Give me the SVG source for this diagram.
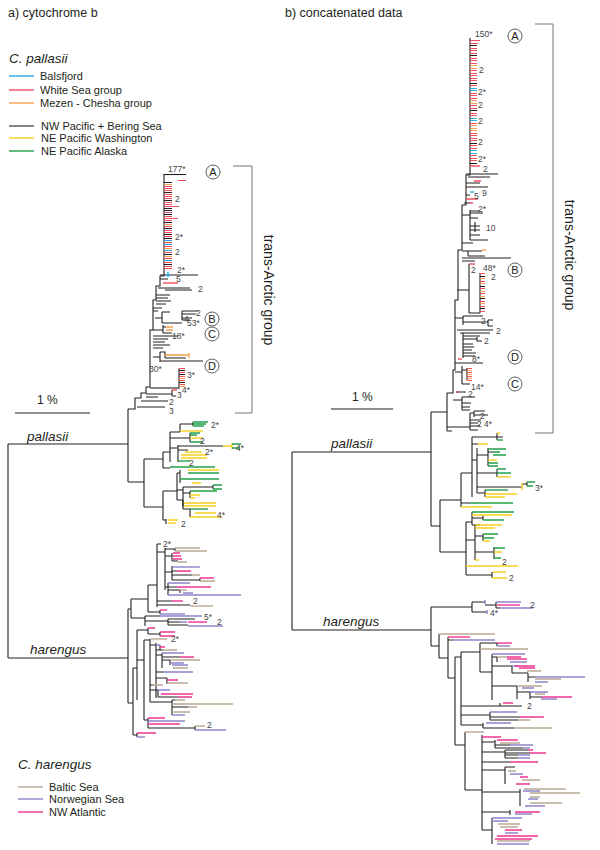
<svg xmlns="http://www.w3.org/2000/svg" width="600" height="850" viewBox="0 0 600 850">
<style>
.k{stroke:#231f20;stroke-width:1.1;fill:none}
.c{stroke-width:1.4;fill:none}
.tk{stroke-width:1;fill:none}
.bl{stroke:#2aaae0}.rd{stroke:#f04e5e}.or{stroke:#f5a050}.ye{stroke:#f7cf1e}.gr{stroke:#22a04b}
.tn{stroke:#b8a892}.pu{stroke:#8d84cc}.mg{stroke:#ee3491}
.br{stroke:#777;stroke-width:1;fill:none}
.t{font-family:"Liberation Sans",Arial,sans-serif;fill:#231f20}
.n{font-family:"Liberation Sans",Arial,sans-serif;font-size:8.5px;fill:#444}
.it{font-style:italic}
.ci{fill:#fff;stroke:#333;stroke-width:0.8}
</style>

<g id="titles">
<text class="t" x="8" y="17" font-size="12.5">a) cytochrome b</text>
<text class="t" x="285" y="17" font-size="12.5">b) concatenated data</text>
</g>

<g id="legend-pallasii">
<text class="t it" x="9" y="63" font-size="13.5">C. pallasii</text>
<path class="c bl" d="M9,76H34"/><text class="t" x="40" y="80" font-size="11">Balsfjord</text>
<path class="c rd" d="M9,90H34"/><text class="t" x="40" y="94" font-size="11">White Sea group</text>
<path class="c or" d="M9,103H34"/><text class="t" x="40" y="107" font-size="11">Mezen - Chesha group</text>
<path class="k" stroke-width="1.4" d="M9,126H34"/><text class="t" x="41" y="130" font-size="11">NW Pacific + Bering Sea</text>
<path class="c ye" d="M9,138H34"/><text class="t" x="41" y="142" font-size="11">NE Pacific Washington</text>
<path class="c gr" d="M9,151H34"/><text class="t" x="41" y="155" font-size="11">NE Pacific Alaska</text>
</g>

<g id="legend-harengus">
<text class="t it" x="18" y="769" font-size="13.5">C. harengus</text>
<path class="c tn" d="M18,787H43"/><text class="t" x="49" y="791" font-size="11">Baltic Sea</text>
<path class="c pu" d="M18,799H43"/><text class="t" x="49" y="803" font-size="11">Norwegian Sea</text>
<path class="c mg" d="M18,812H43"/><text class="t" x="49" y="816" font-size="11">NW Atlantic</text>
</g>

<!-- ================= PANEL A ================= -->
<g id="a-scale">
<path class="k" d="M15,413H90"/>
<text class="t" x="37" y="404" font-size="12">1 %</text>
</g>

<g id="a-root">
<path class="k" d="M8,444V658M8,444H128M8,658H128M128,409V482M128,482H144M128,609V703"/>
<text class="t it" x="27" y="441" font-size="13.5">pallasii</text>
<text class="t it" x="30" y="654" font-size="13.5">harengus</text>
</g>

<g id="a-transarctic">
<path class="k" d="M128,409H135V398H141V393H146V387H150V330H153V300H156V286H160V276H164V174"/>
<g transform="translate(0,0.5)">
<path class="k" d="M164,174H186"/>
<path class="tk" stroke="#231f20" d="M164,182h8M164,192h8M164,200h8M164,208h8M164,210h8M164,214h8M164,222h8M164,228h8M164,234h8M164,238h8M164,254h8M164,264h8"/>
<path class="tk rd" d="M178,180H186M164,186h8M164,188h8M164,190h8M164,194h8M164,196h8M164,198h8M164,202h8M164,204h8M164,206h15M164,212h8M164,216h8M164,218h14M164,220h8M164,226h8M164,230h8M164,232h8M164,236h8M164,242h8M164,246h8M164,252h8M164,258h8M164,262h8M164,266h8M164,268h8"/>
<path class="tk or" d="M164,184h8M164,224h8M164,248h8M164,256h8"/>
<path class="tk bl" d="M164,240h8M164,244h8M164,250h8M164,260h8"/>
</g>
<path class="k" d="M160,275H198M160,279H168"/>
<path class="c bl" d="M166,275h4M168,272v5"/>
<path class="c rd" d="M163,283H178"/>
<path class="k" d="M158,288H190M165,290H192M156,295H170M156,298H168M156,301H171M156,304H166M153,308H162M153,311H158"/>
<path class="k" d="M155,318H162M162,312V323M162,312H170M162,323H182M182,311V320M182,311H198M182,314H196M182,318H192M182,320H190"/>
<path class="k" d="M153,330H163M163,325V333M163,327H166M163,333H172"/>
<path class="c or" d="M166,327H173M166,330H173"/>
<path class="k" d="M153,336H178M153,339H168M153,342H165M153,345H170M153,348H163"/>
<path class="k" d="M153,357H160M160,352V362M160,352H165V358M165,358H186M160,361H203"/>
<path class="c or" d="M165,355H189M189,353v5"/>
<g transform="translate(0,0.5)">
<path class="k" d="M179,368V388"/>
<path class="tk" stroke="#231f20" d="M179,370h6M179,374h6M179,382h6"/>
<path class="tk rd" d="M179,368h6M179,372h6M179,376h6M179,380h6M179,384h6"/>
<path class="tk or" d="M179,378h6M179,386h6"/>
</g>
<path class="k" d="M150,388H179"/>
<path class="k" d="M146,394H172M172,390V396M172,396H176"/>
<path class="c rd" d="M172,390h5"/>
<path class="k" d="M141,401H168M137,407H165M146,397H158"/>
<text class="n" x="168" y="172">177*</text>
<text class="n" x="175" y="202">2</text>
<text class="n" x="175" y="240">2*</text>
<text class="n" x="175" y="255">2</text>
<text class="n" x="177" y="273">2*</text>
<text class="n" x="176" y="282">5</text>
<text class="n" x="198" y="292">2</text>
<text class="n" x="196" y="316">2</text>
<text class="n" x="184" y="322" font-size="7">4</text>
<text class="n" x="187" y="326">53*</text>
<text class="n" x="172" y="339">18*</text>
<text class="n" x="149" y="372">30*</text>
<text class="n" x="187" y="378">3*</text>
<text class="n" x="177" y="398">3</text>
<text class="n" x="182" y="393">4*</text>
<text class="n" x="169" y="405">2</text>
<text class="n" x="169" y="414">3</text>
</g>

<g id="a-labels-ABCD">
<circle class="ci" cx="213" cy="172" r="7"/><text class="t" x="213" y="176" font-size="11" text-anchor="middle">A</text>
<circle class="ci" cx="212" cy="319" r="7"/><text class="t" x="212" y="323" font-size="11" text-anchor="middle">B</text>
<circle class="ci" cx="212" cy="334" r="7"/><text class="t" x="212" y="338" font-size="11" text-anchor="middle">C</text>
<circle class="ci" cx="212" cy="366" r="7"/><text class="t" x="212" y="370" font-size="11" text-anchor="middle">D</text>
</g>

<g id="a-bracket">
<path class="br" d="M233,166H252V413H235"/>
<text class="t" font-size="14" text-anchor="middle" transform="translate(264,290) rotate(90)" fill="#333">trans-Arctic group</text>
</g>

<g id="a-pacific">
<path class="k" d="M144,459V507M144,459H163M163,452V468M163,468H170M163,452H170M170,432V462"/>
<path class="c gr" d="M170,467H215"/>
<path class="k" d="M170,432H180M180,424V432M180,424H193M193,422V426"/>
<path class="c gr" d="M193,422H208M193,424H206M193,426H204"/>
<path class="c ye" d="M180,431H203"/>
<path class="k" d="M170,438H190M190,433V442"/>
<path class="c gr" d="M190,433H200M190,435H197M190,442H203"/>
<path class="c ye" d="M190,438H203"/>
<path class="k" d="M170,448H178M178,445V462M178,446H223M178,450H188"/>
<path class="c ye" d="M223,446H232M232,443V449"/>
<path class="c gr" d="M232,444H241M232,448H240"/>
<path class="c ye" d="M185,452H202M181,455H207M181,458H207"/>
<path class="c gr" d="M178,461H190"/>
<path class="k" d="M144,507H163M163,491V520M163,491H177M177,473V500M177,473H180M180,470V483"/>
<path class="c ye" d="M188,470H219M192,483H201"/>
<path class="c gr" d="M188,473H219M180,479H219"/>
<path class="k" d="M177,490H183M183,487V507M183,487H213M213,485V489M183,493H190M190,491V498"/>
<path class="c gr" d="M213,485H222M213,489H222M190,491H217"/>
<path class="c ye" d="M190,495H200M190,498H195M183,503H216M183,506H216"/>
<path class="k" d="M177,500H183M183,500V509M183,509H190M190,509V517"/>
<path class="c gr" d="M190,509H208"/>
<path class="c ye" d="M195,513H216M190,517H222"/>
<path class="k" d="M163,520H166M166,519V524"/>
<path class="c ye" d="M168,520H178M168,523H176"/>
<text class="n" x="211" y="428">2*</text>
<text class="n" x="200" y="444">2</text>
<text class="n" x="236" y="451">4*</text>
<text class="n" x="205" y="455">2*</text>
<text class="n" x="189" y="466">2</text>
<text class="n" x="217" y="518">4*</text>
<text class="n" x="181" y="527">2</text>
</g>

<g id="a-harengus">
<path class="k" d="M128,609H131M131,599V618M131,599H148M148,585V612M148,585H157M157,544V607M157,544H161"/>
<path class="k" d="M157,552H165M165,548V590M165,549H175M175,548V551M165,556H172M172,553V561M172,561H178"/>
<path class="c tn" d="M175,548H200M175,551H207M178,562H187"/>
<path class="c mg" d="M173,553H180M173,556H181M173,559H182"/>
<path class="k" d="M165,572H172M172,566V580M172,571H177M172,575H192M172,580H200M200,578V581"/>
<path class="c pu" d="M172,567H200"/>
<path class="c mg" d="M177,571H191M200,578H214"/>
<path class="c tn" d="M192,575H200M200,581H215"/>
<path class="k" d="M165,587H168M168,583V595M168,587H177M168,590H180M180,590V593"/>
<path class="c pu" d="M168,583H190M183,593H193M168,595H241"/>
<path class="c mg" d="M177,587H211"/>
<path class="c tn" d="M180,590H187"/>
<path class="k" d="M157,601H172M157,605H190"/>
<path class="c mg" d="M172,601H183"/>
<path class="c tn" d="M190,606H213"/>
<path class="k" d="M148,612H160M160,610V614"/>
<path class="c mg" d="M160,610H167"/>
<path class="c pu" d="M160,614H185"/>
<path class="k" d="M131,618H145M145,616V626M145,616H160M145,621H168M168,619V625M168,619H195M168,622H180M168,625H188"/>
<path class="c pu" d="M160,616H202M180,622H187M188,626H223"/>
<path class="c mg" d="M188,622H207"/>
<path class="k" d="M128,703H133M133,668V735M133,735H137M137,733V737M133,668H137M137,630V700M137,630H148M148,628V634M148,634H160M160,632V636"/>
<path class="c mg" d="M137,733H156M148,628H155M160,632H175M160,636H175"/>
<path class="c pu" d="M137,737H145"/>
<path class="k" d="M137,660H144M144,640V720M144,640H150M150,639V702"/>
<path class="c tn" d="M150,639H167"/>
<path class="k" d="M150,645H156M156,643V698M160,645V650M156,650H163M156,655H162M162,653V668M162,657H180M162,660H170M170,660V665"/>
<path class="c pu" d="M156,645H160M162,653H184M170,663H184M172,665H188"/>
<path class="c mg" d="M160,647H165M180,657H194"/>
<path class="c tn" d="M163,650H177M170,660H200M173,668H188"/>
<path class="k" d="M156,672H163M156,678H167M167,678V684M150,685H153M150,690H158M158,690V697M158,697H178"/>
<path class="c pu" d="M163,672H193M158,690H170"/>
<path class="c mg" d="M167,680H178M161,694H193M178,697H192"/>
<path class="c tn" d="M167,683H188M153,685H163"/>
<path class="k" d="M150,702H172M172,700V715M172,700H175M172,707H188"/>
<path class="c tn" d="M175,700H185M172,704H233M188,707H197M172,712H190"/>
<path class="c pu" d="M172,715H185"/>
<path class="k" d="M144,720H148M148,718V728M148,728H195M195,726V730"/>
<path class="c mg" d="M148,718H165M148,724H180"/>
<path class="c pu" d="M148,721H185M195,730H226"/>
<path class="c tn" d="M195,726H205"/>
<text class="n" x="163" y="547">2*</text>
<text class="n" x="193" y="604">2</text>
<text class="n" x="204" y="620">5*</text>
<text class="n" x="217" y="625">2</text>
<text class="n" x="171" y="642">2*</text>
<text class="n" x="207" y="728">2</text>
</g>

<!-- ================= PANEL B ================= -->
<g id="b-scale">
<path class="k" d="M331,409H393"/>
<text class="t" x="352" y="401" font-size="12">1 %</text>
</g>

<g id="b-root">
<path class="k" d="M292,452V630M292,452H431M292,630H431M431,412V526M431,412H447M447,393V431M447,431H452M431,526H440M431,607V646"/>
<text class="t it" x="331" y="448" font-size="13.5">pallasii</text>
<text class="t it" x="323" y="626" font-size="13.5">harengus</text>
</g>

<g id="b-transarctic">
<path class="k" d="M447,393H453V370H455V300H458V250H462V205H466V175H470V38"/>
<g transform="translate(0,0.5)">
<path class="tk" stroke="#231f20" d="M470,45h7M470,55h7M470,83h7M470,110h7M470,143h7M470,163h7"/>
<path class="tk rd" d="M470,40H480M470,43H478M470,48h7M470,50h7M470,53h7M470,58h7M470,60h7M470,63h7M470,70h7M470,73h7M470,75h7M470,78h7M470,80h7M470,85h7M470,93h7M470,95h7M470,98h7M470,105h7M470,108h7M470,113h7M470,115h7M470,123h7M470,133h7M470,135h7M470,138h7M470,140h7M470,145h7M470,148h7M470,155h7M470,158h7M470,160h7"/>
<path class="tk or" d="M470,65h7M470,68h7M470,100h7M470,103h7M470,125h7M470,128h7M470,130h7"/>
<path class="tk bl" d="M470,88h7M470,90h7M470,118h7M470,120h7M470,150h7M470,153h7"/>
</g>
<path class="c rd" d="M470,166H480"/>
<path class="k" d="M466,174H498M468,177H490M466,183H480M466,187H488M466,195H470M464,203H470"/>
<path class="c rd" d="M474,181H481M466,199H478M470,203H473"/>
<path class="c bl" d="M470,192H474"/>
<path class="k" d="M462,215H470M470,210V240M470,211H480M470,213H483M470,218H478M475,222V232M470,226H480M470,230H480M470,235H480M470,240H488M462,243H473M462,251H468M468,251V256M468,251H482M468,256H485M462,258H511M462,261H475"/>
<path class="c or" d="M482,250H486"/>
<path class="k" d="M457,290H469M469,264V313M469,313H480M480,273V313"/>
<path class="c rd" d="M469,264h6"/>
<g transform="translate(0,0.5)">
<path class="tk" stroke="#231f20" d="M480,276h5M480,286h5M480,298h5M480,308h5"/>
<path class="tk rd" d="M480,273h5M480,281h5M480,288h5M480,293h5M480,301h5M480,306h5M480,311h5"/>
<path class="tk or" d="M480,278h5M480,283h5M480,291h5M480,296h5M480,303h5"/>
</g>
<path class="k" d="M455,318H463M463,316V325M463,316H483M463,322H475M475,322H488M488,320V326M488,320h5M488,326h5"/>
<path class="k" d="M457,330H493M460,333H490M463,333V358M463,336H480M463,339H477M477,337V341H482M463,344H473M463,347H474M463,350H472M463,353H476M463,356H475"/>
<path class="c rd" d="M458,359h4"/>
<path class="k" d="M455,363H483M455,372H462M462,366V384M462,370H467M467,368V380M462,384H470"/>
<g transform="translate(0,0.5)">
<path class="tk rd" d="M467,368h5M467,372h5M467,376h5M467,380h5"/>
<path class="tk or" d="M467,370h5M467,374h5M467,378h5"/>
</g>
<path class="k" d="M456,392H466M453,400H462M462,397V410M462,397H475M462,403H471M462,407H470M462,410H470"/>
<path class="c rd" d="M456,392h3"/>
<path class="k" d="M447,427H470M470,413V430M470,413H474M474,411V417M474,411H485M474,415H488M470,420H481M470,423H478M470,426H480M470,430H478"/>
<text class="n" x="475" y="37">150*</text>
<text class="n" x="479" y="73">2</text>
<text class="n" x="478" y="95">2*</text>
<text class="n" x="478" y="108">2</text>
<text class="n" x="478" y="124">2</text>
<text class="n" x="478" y="145">2</text>
<text class="n" x="478" y="162">2*</text>
<text class="n" x="483" y="172">2</text>
<text class="n" x="474" y="199">5</text>
<text class="n" x="482" y="196">9</text>
<text class="n" x="478" y="212">2*</text>
<text class="n" x="486" y="231">10</text>
<text class="n" x="471" y="273">2</text>
<text class="n" x="483" y="271">48*</text>
<text class="n" x="491" y="280">2</text>
<text class="n" x="481" y="324">2</text>
<text class="n" x="496" y="334">2</text>
<text class="n" x="484" y="344">2</text>
<text class="n" x="472" y="362">8*</text>
<text class="n" x="471" y="390">14*</text>
<text class="n" x="468" y="397">2</text>
<text class="n" x="480" y="419">2</text>
<text class="n" x="477" y="427">2</text>
<text class="n" x="484" y="427">4*</text>
</g>

<g id="b-labels-ABCD">
<circle class="ci" cx="515" cy="36" r="7"/><text class="t" x="515" y="40" font-size="11" text-anchor="middle">A</text>
<circle class="ci" cx="515" cy="270" r="7"/><text class="t" x="515" y="274" font-size="11" text-anchor="middle">B</text>
<circle class="ci" cx="515" cy="357" r="7"/><text class="t" x="515" y="361" font-size="11" text-anchor="middle">D</text>
<circle class="ci" cx="515" cy="384" r="7"/><text class="t" x="515" y="388" font-size="11" text-anchor="middle">C</text>
</g>

<g id="b-bracket">
<path class="br" d="M535,24H553V433H535"/>
<text class="t" font-size="14" text-anchor="middle" transform="translate(565,255) rotate(90)" fill="#333">trans-Arctic group</text>
</g>

<g id="b-pacific">
<path class="k" d="M440,500V552M440,500H461M461,473V507M461,503H470"/>
<path class="c gr" d="M470,503H513"/>
<path class="c ye" d="M461,507H492"/>
<path class="k" d="M461,473H472M472,437V497M472,437H497M497,433V440M497,437H503M472,444H478"/>
<path class="c ye" d="M497,433H500M478,444H488"/>
<path class="c gr" d="M497,440H503"/>
<path class="k" d="M472,460H477M477,448V493M477,455H488M488,448V466M488,452H493"/>
<path class="c gr" d="M488,449H506M493,452H500M493,455H506M488,463H498M488,466H498"/>
<path class="c ye" d="M488,460H497"/>
<path class="k" d="M477,473H497M497,469V477"/>
<path class="c gr" d="M497,469H506M497,473H511"/>
<path class="c ye" d="M497,477H511"/>
<path class="k" d="M477,487H522M527,482V486M522,484H527"/>
<path class="c ye" d="M522,483V490"/>
<path class="c gr" d="M527,482H535M527,486H533"/>
<path class="k" d="M477,493H485M485,490V497"/>
<path class="c gr" d="M485,490H508"/>
<path class="c ye" d="M485,494H517M485,497H505"/>
<path class="k" d="M440,552H466M466,522V575M466,522H472M472,512V525M472,518H483M483,516V520M472,525H480"/>
<path class="c gr" d="M472,512H514M483,520H504"/>
<path class="c ye" d="M472,515H512"/>
<path class="k" d="M466,540H475M475,525V560M475,536H483M483,534V541M475,552H494M494,547V559"/>
<path class="c ye" d="M475,525H502M475,528H495M483,541H490M494,552H502M475,560H479"/>
<path class="c gr" d="M483,534H498M483,538H494M494,548H505M494,558H501"/>
<path class="c ye" d="M466,566H518"/>
<path class="k" d="M466,575H492M492,572V578"/>
<path class="c ye" d="M493,572H506M492,578H507"/>
<text class="n" x="535" y="491">3*</text>
<text class="n" x="502" y="565">2</text>
<text class="n" x="509" y="581">2</text>
</g>

<g id="b-harengus">
<path class="k" d="M431,607H472M472,602V612M472,602H485M485,605H496M496,602V608M496,608H500M472,612H487"/>
<path class="c pu" d="M485,600V604M496,602H521M500,608H533M487,610V614"/>
<path class="c mg" d="M497,605H520"/>
<path class="k" d="M431,646H439M439,634V658M439,658H448M448,637V678M448,640H453"/>
<path class="c tn" d="M439,634H495"/>
<path class="c mg" d="M448,637H470"/>
<path class="c pu" d="M453,640H495"/>
<path class="k" d="M448,678H455M455,657V745M455,657H461M461,652V725M461,652H480M480,643V672M480,643H497M497,643V646M480,672H492M492,654V700"/>
<path class="c mg" d="M497,643H512"/>
<path class="c pu" d="M497,646H510"/>
<path class="c tn" d="M480,649H528"/>
<path class="k" d="M492,657H497M497,657V662M492,666H512M512,666V673M512,673H528M528,673V682M528,677H535M492,686H517M517,686V699M517,692H530M530,692V699M530,697H542"/>
<path class="c pu" d="M492,654H525M510,662H527M512,666H519M535,677H585M535,682H548M522,688H534M530,692H548M541,699H557"/>
<path class="c tn" d="M497,657H507M527,671H541M535,679H561M517,686H542M535,694H545"/>
<path class="c mg" d="M507,657H521M507,659H527M515,666H535M519,668H535M542,697H572"/>
<path class="k" d="M461,706H500M500,703V706M500,706H522M461,715H490M490,712V720M490,717H520M490,720H518M461,725H483M483,723V728M483,728H514"/>
<path class="c mg" d="M503,703H513M520,717H544"/>
<path class="c pu" d="M490,712H517M486,723H511"/>
<path class="c tn" d="M518,720H530M514,728H552"/>
<path class="k" d="M455,745H465M465,732V790M465,790H482M482,735V830"/>
<path class="c tn" d="M465,732H484"/>
<path class="k" d="M482,742H495M495,740V748M495,745H510M495,748H523M482,752H505M505,750V758M505,750H528M505,753H530M505,755H518M505,758H518M482,762H510M482,770H505M505,767V784M505,767H515M482,792H520M520,789V806M482,812H510M510,810V815"/>
<path class="c mg" d="M482,737H501M497,740H518M528,750H533M530,753H546M510,762H538M520,777H528M516,784H530M515,812H540"/>
<path class="c tn" d="M500,743H520M508,771H516M522,780H540M524,789H566M530,793H580M530,797H540M530,803H562"/>
<path class="c pu" d="M510,745H533M523,748H530M518,755H530M518,758H530M510,774H523M523,791H540M528,799H538M525,806H545M515,814H532"/>
<path class="k" d="M482,830H492M492,818V844"/>
<path class="c pu" d="M492,818H522M492,821H508M505,833H518M497,844H529"/>
<path class="c tn" d="M498,824H520M500,827H518M497,841H530"/>
<path class="c mg" d="M505,830H522M497,836H538M495,839H532"/>
<text class="n" x="530" y="608">2</text>
<text class="n" x="490" y="616">4*</text>
<text class="n" x="527" y="709">2</text>
</g>
</svg>
